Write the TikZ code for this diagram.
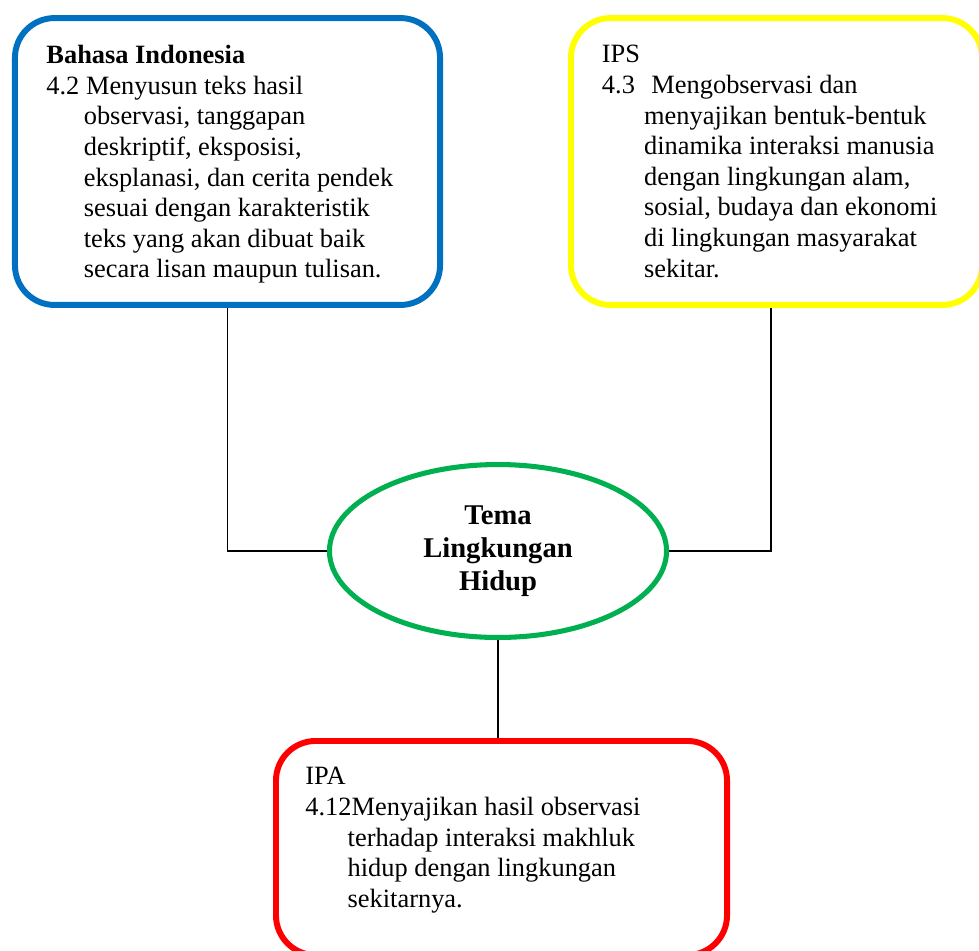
\documentclass[tikz,border=0pt]{standalone}
\usepackage{fontspec}
\setmainfont{Liberation Serif}
\usetikzlibrary{shapes.geometric}

\definecolor{kdblue}{HTML}{0070C0}
\definecolor{kdyellow}{HTML}{FFFF00}
\definecolor{kdred}{HTML}{FF0000}
\definecolor{temagreen}{HTML}{00B050}

\tikzset{
  kdbox/.style={draw=#1, line width=2.7pt, rounded corners=18pt, minimum height=130.4pt},
  kdtext/.style={anchor=north west, align=left, inner sep=0pt, font=\fontsize{12pt}{13.9pt}\selectfont},
  tema/.style={ellipse, draw=temagreen, line width=2.3pt, minimum width=153.2pt, minimum height=78.6pt,
    align=center, font=\bfseries\fontsize{13pt}{15pt}\selectfont},
  link/.style={line width=0.7pt}
}
\newcommand{\ind}[1][17pt]{\hspace*{#1}}

\begin{document}
\begin{tikzpicture}[x=0.4545pt,y=-0.4545pt]
  \useasboundingbox (0,0) rectangle (979,950);
  % the three boxes and the theme
  \node[kdbox=kdblue, minimum width=193.2pt] (bindo) at (227.5,161.5) {};
  \node[kdbox=kdyellow, minimum width=186.8pt] (ips) at (776.5,161.5) {};
  \node[kdbox=kdred, minimum width=205pt, minimum height=97.3pt] (ipa) at (501.5,848) {};
  \node[tema] (pusat) at (498,551) {Tema\\Lingkungan\\Hidup};
  % texts
  \node[kdtext] (tbindo) at (46,45) {\textbf{Bahasa Indonesia}\\
    4.2 Menyusun teks hasil\\
    \ind observasi, tanggapan\\
    \ind deskriptif, eksposisi,\\
    \ind eksplanasi, dan cerita pendek\\
    \ind sesuai dengan karakteristik\\
    \ind teks yang akan dibuat baik\\
    \ind secara lisan maupun tulisan.};
  \node[kdtext] (tips) at (601.5,45) {IPS\\
    4.3\hspace{7.5pt}Mengobservasi dan\\
    \ind[19.2pt]menyajikan bentuk-bentuk\\
    \ind[19.2pt]dinamika interaksi manusia\\
    \ind[19.2pt]dengan lingkungan alam,\\
    \ind[19.2pt]sosial, budaya dan ekonomi\\
    \ind[19.2pt]di lingkungan masyarakat\\
    \ind[19.2pt]sekitar.};
  \node[kdtext] (tipa) at (305,767) {IPA\\
    4.12Menyajikan hasil observasi\\
    \ind[19.2pt]terhadap interaksi makhluk\\
    \ind[19.2pt]hidup dengan lingkungan\\
    \ind[19.2pt]sekitarnya.};
  % connectors
  \draw[link] (bindo.south) |- (pusat.west);
  \draw[link] ([xshift=-2.5pt]ips.south) |- (pusat.east);
  \draw[link] (pusat.south) -- (pusat.south |- ipa.north);
\end{tikzpicture}
\end{document}
